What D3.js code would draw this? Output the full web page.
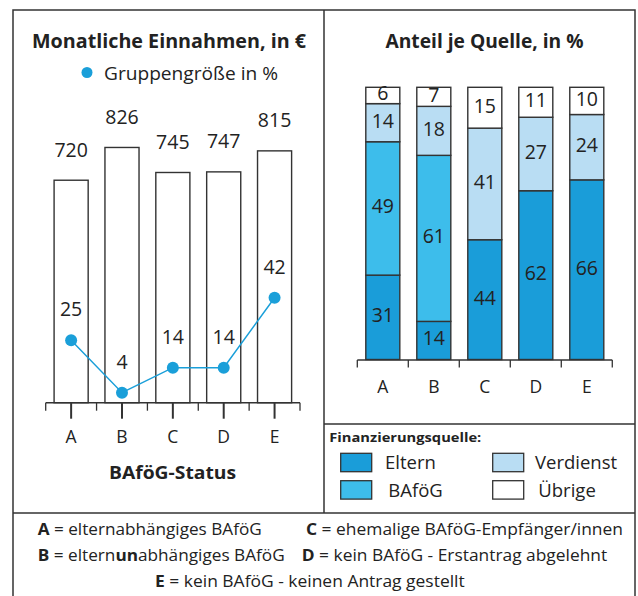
<!DOCTYPE html>
<html>
<head>
<meta charset="utf-8">
<script src="https://cdn.jsdelivr.net/npm/d3@7"></script>
<style>
  body { margin: 0; background: #fff; }
  text { font-family: "Open Sans", sans-serif; fill: #222; }
</style>
</head>
<body>
<div id="chart"></div>
<script>
// data
const categories = ["A", "B", "C", "D", "E"]
const einnahmen = [720, 826, 745, 747, 815]       // Monatliche Einnahmen in €
const gruppengroesse = [25, 4, 14, 14, 42]         // Gruppengröße in %

const sources = ["Eltern", "BAföG", "Verdienst", "Übrige"]
const eltern = [31, 14, 44, 62, 66]
const bafoeg = [49, 61, 0, 0, 0]
const verdienst = [14, 18, 41, 27, 24]
const uebrige = [6, 7, 15, 11, 10]
const sourceColors = ["#1a9dd9", "#3dbdeb", "#b9ddf3", "#ffffff"]

const footnotes = [
    [{ t: "A", b: true }, { t: " = elternabhängiges BAföG" }],
    [{ t: "C", b: true }, { t: " = ehemalige BAföG-Empfänger/innen" }],
    [{ t: "B", b: true }, { t: " = eltern" }, { t: "un", b: true }, { t: "abhängiges BAföG" }],
    [{ t: "D", b: true }, { t: " = kein BAföG - Erstantrag abgelehnt" }],
    [{ t: "E", b: true }, { t: " = kein BAföG - keinen Antrag gestellt" }]
]

const W = 638, H = 596
const LINE = "#333"
const DOT = "#1a9fd9"

const svg = d3.select("#chart").append("svg")
    .attr("width", W)
    .attr("height", H)

// squeeze text to the width measured on the picture
function fit(sel, w) {
    sel.attr("textLength", w).attr("lengthAdjust", "spacingAndGlyphs")
    return sel
}

//frame lines
const frame = svg.append("g").attr("stroke", LINE).attr("stroke-width", 1.5).attr("fill", "none")
frame.append("path").attr("d", "M13,596 V10 H635 V513")
frame.append("line").attr("x1", 324).attr("x2", 324).attr("y1", 10).attr("y2", 513)
frame.append("line").attr("x1", 324).attr("x2", 635).attr("y1", 424).attr("y2", 424)
frame.append("line").attr("x1", 13).attr("x2", 635).attr("y1", 513).attr("y2", 513)
frame.append("line").attr("x1", 635).attr("x2", 635).attr("y1", 513).attr("y2", 596)

// ---------- left chart ----------
const x1 = d3.scaleBand().domain(categories).range([45.7, 300])
    .paddingInner(0.33).paddingOuter(0.165)
const yEur = d3.scaleLinear().domain([0, 1000]).range([402.7, 93.7])
const yPct = d3.scaleLinear().domain([0, 100]).range([402.7, 152.7])

fit(svg.append("text")
    .attr("x", 169).attr("y", 48)
    .attr("text-anchor", "middle")
    .attr("font-size", 19).attr("font-weight", "bold")
    .text("Monatliche Einnahmen, in €"), 274)

svg.append("circle").attr("cx", 87).attr("cy", 72.5).attr("r", 5.5).attr("fill", DOT)
fit(svg.append("text")
    .attr("x", 104).attr("y", 80)
    .attr("font-size", 19)
    .text("Gruppengröße in %"), 174)

svg.selectAll(".bar").data(einnahmen).enter().append("rect")
    .attr("class", "bar")
    .attr("x", (d, i) => x1(categories[i]))
    .attr("y", d => yEur(d))
    .attr("width", x1.bandwidth())
    .attr("height", d => yEur(0) - yEur(d))
    .attr("fill", "#fff")
    .attr("stroke", LINE)
    .attr("stroke-width", 1.4)

svg.selectAll(".barlabel").data(einnahmen).enter().append("text")
    .attr("class", "barlabel")
    .attr("x", (d, i) => x1(categories[i]) + x1.bandwidth() / 2)
    .attr("y", d => yEur(d) - 23.5)
    .attr("text-anchor", "middle")
    .attr("font-size", 19.5)
    .text(d => d)

// axis: short ticks on band edges, long ticks at centres
const ax1 = svg.append("g").attr("stroke", LINE)
ax1.append("line").attr("x1", x1.range()[0]).attr("x2", x1.range()[1])
    .attr("y1", yEur(0)).attr("y2", yEur(0)).attr("stroke-width", 1.5)
d3.range(categories.length + 1).forEach(i => {
    const xx = x1.range()[0] + i * x1.step()
    ax1.append("line").attr("x1", xx).attr("x2", xx)
        .attr("y1", yEur(0)).attr("y2", yEur(0) + 8).attr("stroke-width", 1.3)
})
categories.forEach(c => {
    const xx = x1(c) + x1.bandwidth() / 2
    ax1.append("line").attr("x1", xx).attr("x2", xx)
        .attr("y1", yEur(0)).attr("y2", yEur(0) + 16).attr("stroke-width", 2)
})
svg.selectAll(".cat1").data(categories).enter().append("text")
    .attr("class", "cat1")
    .attr("x", d => x1(d) + x1.bandwidth() / 2)
    .attr("y", 442.7)
    .attr("text-anchor", "middle")
    .attr("font-size", 17.5)
    .text(d => d)

fit(svg.append("text")
    .attr("x", 172.5).attr("y", 479.3)
    .attr("text-anchor", "middle")
    .attr("font-size", 18).attr("font-weight", "bold")
    .text("BAföG-Status"), 127)

// group size line
const line = d3.line()
    .x((d, i) => x1(categories[i]) + x1.bandwidth() / 2)
    .y(d => yPct(d))
svg.append("path").datum(gruppengroesse)
    .attr("d", line)
    .attr("fill", "none")
    .attr("stroke", DOT)
    .attr("stroke-width", 1.5)
svg.selectAll(".dot").data(gruppengroesse).enter().append("circle")
    .attr("class", "dot")
    .attr("cx", (d, i) => x1(categories[i]) + x1.bandwidth() / 2)
    .attr("cy", d => yPct(d))
    .attr("r", 6)
    .attr("fill", DOT)
svg.selectAll(".dotlabel").data(gruppengroesse).enter().append("text")
    .attr("class", "dotlabel")
    .attr("x", (d, i) => x1(categories[i]) + x1.bandwidth() / 2)
    .attr("y", d => yPct(d) - 24)
    .attr("text-anchor", "middle")
    .attr("font-size", 19.5)
    .text(d => d)

// ---------- right chart ----------
const x2 = d3.scaleBand().domain(categories).range([357.3, 612.3])
    .paddingInner(0.333).paddingOuter(0.1667)
const y2 = d3.scaleLinear().domain([0, 100]).range([359.5, 87.3])

fit(svg.append("text")
    .attr("x", 484.5).attr("y", 48.3)
    .attr("text-anchor", "middle")
    .attr("font-size", 19).attr("font-weight", "bold")
    .text("Anteil je Quelle, in %"), 198)

const table = categories.map((c, i) => ({
    cat: c, Eltern: eltern[i], "BAföG": bafoeg[i], Verdienst: verdienst[i], "Übrige": uebrige[i]
}))
const stacked = d3.stack().keys(sources)(table)

stacked.forEach((layer, k) => {
    const g = svg.append("g")
    const segs = layer.filter(s => s[1] - s[0] > 0)
    g.selectAll("rect").data(segs).enter().append("rect")
        .attr("x", s => x2(s.data.cat))
        .attr("y", s => y2(s[1]))
        .attr("width", x2.bandwidth())
        .attr("height", s => y2(s[0]) - y2(s[1]))
        .attr("fill", sourceColors[k])
        .attr("stroke", LINE)
        .attr("stroke-width", 1.4)
    g.selectAll("text").data(segs).enter().append("text")
        .attr("x", s => x2(s.data.cat) + x2.bandwidth() / 2)
        .attr("y", s => (y2(s[0]) + y2(s[1])) / 2 + 5)
        .attr("text-anchor", "middle")
        .attr("font-size", 19.5)
        .text(s => s[1] - s[0])
})

const ax2 = svg.append("g").attr("stroke", LINE)
ax2.append("line").attr("x1", x2.range()[0]).attr("x2", x2.range()[1])
    .attr("y1", 360).attr("y2", 360).attr("stroke-width", 1.5)
d3.range(categories.length + 1).forEach(i => {
    const xx = x2.range()[0] + i * x2.step()
    ax2.append("line").attr("x1", xx).attr("x2", xx)
        .attr("y1", 360).attr("y2", 367.5).attr("stroke-width", 1.3)
})
svg.selectAll(".cat2").data(categories).enter().append("text")
    .attr("class", "cat2")
    .attr("x", d => x2(d) + x2.bandwidth() / 2)
    .attr("y", 392.7)
    .attr("text-anchor", "middle")
    .attr("font-size", 17.5)
    .text(d => d)

// legend box
fit(svg.append("text")
    .attr("x", 329.3).attr("y", 442.3)
    .attr("font-size", 12.5).attr("font-weight", "bold")
    .text("Finanzierungsquelle:"), 152)

const legendPos = [
    { x: 340.7, y: 453.3, tx: 385, ty: 469.3 },
    { x: 340.7, y: 480.7, tx: 388.3, ty: 496.7 },
    { x: 492.7, y: 453.3, tx: 535, ty: 469.3 },
    { x: 492.7, y: 480.7, tx: 538.3, ty: 496.7 }
]
sources.forEach((s, k) => {
    const p = legendPos[k]
    svg.append("rect")
        .attr("x", p.x).attr("y", p.y)
        .attr("width", 31).attr("height", 18.4)
        .attr("fill", sourceColors[k])
        .attr("stroke", LINE).attr("stroke-width", 1.3)
    svg.append("text")
        .attr("x", p.tx).attr("y", p.ty)
        .attr("font-size", 18.5)
        .text(s)
})

// footnotes
const notePos = [
    { x: 37.7, y: 535, w: 224 },
    { x: 306, y: 535, w: 317 },
    { x: 37.7, y: 560.7, w: 247 },
    { x: 301.7, y: 560.7, w: 305.5 },
    { x: 155, y: 586.7, w: 309.7 }
]
footnotes.forEach((parts, i) => {
    const p = notePos[i]
    const t = svg.append("text")
        .attr("x", p.x).attr("y", p.y)
        .attr("font-size", 15.5)
        .attr("xml:space", "preserve")
    parts.forEach(part => {
        t.append("tspan")
            .attr("font-weight", part.b ? "bold" : "normal")
            .text(part.t)
    })
    fit(t, p.w)
})
</script>
</body>
</html>
